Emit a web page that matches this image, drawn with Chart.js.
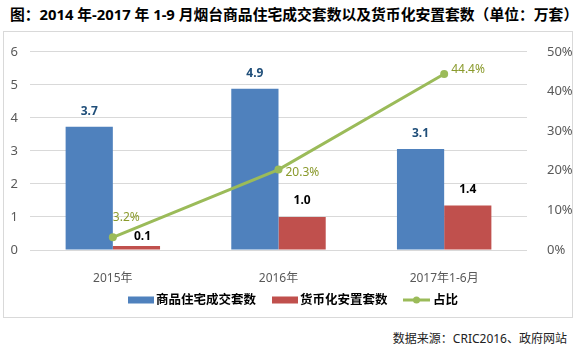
<!DOCTYPE html>
<html>
<head>
<meta charset="utf-8">
<script src="https://cdn.jsdelivr.net/npm/chart.js@4"></script>
<style>
  body { margin: 0; width: 575px; height: 347px; background: #fff; position: relative; overflow: hidden;
         font-family: "Noto Sans", "Noto Sans CJK SC", sans-serif; }
  #title { position: absolute; left: 10px; top: 3px; font-size: 14.8px; font-weight: bold; color: #000; white-space: nowrap; }
  #box { position: absolute; left: 3px; top: 31px; width: 568px; height: 285px; border: 1px solid #D9D9D9; }
  #source { position: absolute; right: 8px; top: 329px; font-size: 12px; color: #222; white-space: nowrap; }
</style>
</head>
<body>
<div id="title">图：2014 年-2017 年 1-9 月烟台商品住宅成交套数以及货币化安置套数（单位：万套）</div>
<div id="box"><canvas id="myChart" width="568" height="285"></canvas></div>
<div id="source">数据来源：CRIC2016、政府网站</div>
<script>
// Data
const categories = ["2015年", "2016年", "2017年1-6月"];
const salesCount = [3.73, 4.88, 3.06];
const resettleCount = [0.12, 1.0, 1.35];
const ratio = [3.2, 20.3, 44.4];
const salesLabels = ["3.7", "4.9", "3.1"];
const resettleLabels = ["0.1", "1.0", "1.4"];
const ratioLabels = ["3.2%", "20.3%", "44.4%"];
const seriesNames = ["商品住宅成交套数", "货币化安置套数", "占比"];
const leftTicks = [0, 1, 2, 3, 4, 5, 6];

const blue = "#4F81BD";
const red = "#C0504D";
const green = "#9BBB59";
const font = '"Noto Sans", "Noto Sans CJK SC", sans-serif';

// draws value labels and the legend
const labelPlugin = {
  id: "labels",
  afterDatasetsDraw(chart) {
    const ctx = chart.ctx;
    ctx.save();
    ctx.font = "bold 12px " + font;
    ctx.textAlign = "center";
    ctx.textBaseline = "bottom";
    chart.getDatasetMeta(0).data.forEach((bar, i) => {
      ctx.fillStyle = "#1F4E79";
      ctx.fillText(salesLabels[i], bar.x, bar.y - 9);
    });
    chart.getDatasetMeta(1).data.forEach((bar, i) => {
      ctx.fillStyle = "#000";
      ctx.fillText(resettleLabels[i], bar.x + (i === 0 ? 6 : 0), bar.y - (i === 0 ? 3 : 10));
    });
    ctx.font = "12px " + font;
    ctx.fillStyle = "#8A9A2C";
    ctx.textAlign = "left";
    ctx.textBaseline = "middle";
    chart.getDatasetMeta(2).data.forEach((pt, i) => {
      if (i === 0) ctx.fillText(ratioLabels[i], pt.x, pt.y - 20);
      else ctx.fillText(ratioLabels[i], pt.x + 7, pt.y + (i === 1 ? 3 : -4));
    });

    // legend
    const ly = 268;
    ctx.font = "bold 12.5px " + font;
    ctx.fillStyle = "#000";
    ctx.textBaseline = "middle";
    let x = 124;
    ctx.fillStyle = blue;
    ctx.fillRect(x, ly - 3.5, 26, 7);
    ctx.fillStyle = "#000";
    ctx.fillText(seriesNames[0], x + 28, ly);
    x = 268;
    ctx.fillStyle = red;
    ctx.fillRect(x, ly - 3.5, 26, 7);
    ctx.fillStyle = "#000";
    ctx.fillText(seriesNames[1], x + 28, ly);
    x = 399;
    ctx.strokeStyle = green;
    ctx.lineWidth = 3;
    ctx.beginPath();
    ctx.moveTo(x, ly);
    ctx.lineTo(x + 27, ly);
    ctx.stroke();
    ctx.fillStyle = green;
    ctx.beginPath();
    ctx.arc(x + 13.5, ly, 3.5, 0, Math.PI * 2);
    ctx.fill();
    ctx.fillStyle = "#000";
    ctx.fillText(seriesNames[2], x + 30, ly);
    ctx.restore();
  },
};

new Chart(document.getElementById("myChart"), {
  data: {
    labels: categories,
    datasets: [
      { type: "bar", label: seriesNames[0], data: salesCount, backgroundColor: blue, yAxisID: "y", order: 2 },
      { type: "bar", label: seriesNames[1], data: resettleCount, backgroundColor: red, yAxisID: "y", order: 2 },
      {
        type: "line",
        label: seriesNames[2],
        data: ratio,
        borderColor: green,
        backgroundColor: green,
        borderWidth: 3,
        pointRadius: 4,
        pointBackgroundColor: green,
        pointBorderWidth: 0,
        yAxisID: "y1",
        order: 1,
      },
    ],
  },
  options: {
    responsive: false,
    animation: false,
    datasets: { bar: { categoryPercentage: 0.57, barPercentage: 1 } },
    layout: { padding: { top: 14, left: 0, right: 0, bottom: 0 } },
    plugins: { legend: { display: false }, tooltip: { enabled: false } },
    scales: {
      x: {
        grid: { display: false },
        border: { display: false },
        ticks: { color: "#595959", font: { family: font, size: 12 }, padding: 13 },
        afterFit: (s) => { s.height = 67; },
      },
      y: {
        position: "left",
        min: 0,
        max: 6,
        afterBuildTicks: (s) => { s.ticks = leftTicks.map((v) => ({ value: v })); },
        grid: { color: "#D9D9D9", drawTicks: false },
        border: { display: false },
        ticks: { color: "#595959", font: { family: font, size: 13 }, padding: 12 },
        afterFit: (s) => { s.width = 26; },
      },
      y1: {
        position: "right",
        min: 0,
        max: 50,
        grid: { display: false },
        border: { display: false },
        ticks: { stepSize: 10, color: "#595959", font: { family: font, size: 13 }, padding: 12, callback: (v) => v + "%" },
        afterFit: (s) => { s.width = 45; },
      },
    },
  },
  plugins: [labelPlugin],
});
</script>
</body>
</html>
